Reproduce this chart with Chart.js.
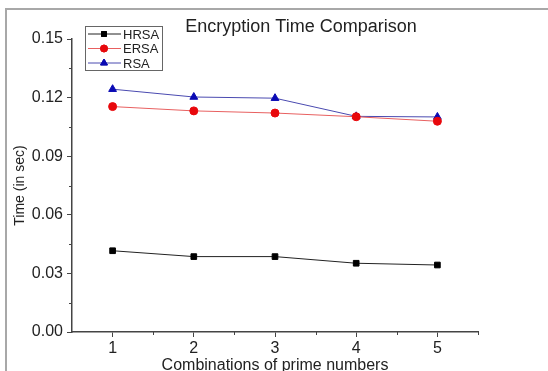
<!DOCTYPE html>
<html>
<head>
<meta charset="utf-8">
<script src="https://cdn.jsdelivr.net/npm/chart.js@4"></script>
<style>
    html, body { margin: 0; padding: 0; background: #fff; }
    #wrap { position: relative; width: 548px; height: 371px; overflow: hidden; }
    #frame { position: absolute; left: 5px; top: 8px; width: 600px; height: 400px;
             border-top: 2px solid #a8a8a8; border-left: 2px solid #a8a8a8; }
    canvas { position: absolute; left: 0; top: 0; }
</style>
</head>
<body>
<div id="wrap">
    <div id="frame"></div>
    <canvas id="chart" width="548" height="371"></canvas>
</div>
<script>
(function () {
    'use strict';

    var categories = [1, 2, 3, 4, 5];
    var hrsa = [0.0416, 0.0386, 0.0386, 0.0352, 0.0343];
    var ersa = [0.1154, 0.1132, 0.1121, 0.1102, 0.1079];
    var rsa = [0.1243, 0.1203, 0.1197, 0.1104, 0.1101];
    var yTicks = [0, 0.03, 0.06, 0.09, 0.12, 0.15];
    var xMinor = [1.5, 2.5, 3.5, 4.5, 5.5];
    var yMinor = [0.015, 0.045, 0.075, 0.105, 0.135];
    var font = '"Liberation Sans", Arial, sans-serif';
    var axisColor = '#444';

    function points(values) {
        return categories.map(function (c, i) {
            return { x: c, y: values[i] };
        });
    }

    function series(label, values, color, lineColor, style, radius) {
        return {
            label: label,
            data: points(values),
            borderColor: lineColor,
            backgroundColor: color,
            pointBorderColor: color,
            pointBackgroundColor: color,
            pointStyle: style,
            pointRadius: radius,
            borderWidth: 1,
            tension: 0,
        };
    }

    // minor tick marks, like the origin plot
    var minorTicks = {
        id: 'minorTicks',
        afterDraw: function (chart) {
            var ctx = chart.ctx;
            var xs = chart.scales.x;
            var ys = chart.scales.y;
            var area = chart.chartArea;
            ctx.save();
            ctx.strokeStyle = axisColor;
            ctx.lineWidth = 1;
            ctx.beginPath();
            xMinor.forEach(function (v) {
                var px = Math.round(xs.getPixelForValue(v)) + 0.5;
                ctx.moveTo(px, area.bottom);
                ctx.lineTo(px, area.bottom + 3);
            });
            yMinor.forEach(function (v) {
                var py = Math.round(ys.getPixelForValue(v)) + 0.5;
                ctx.moveTo(area.left, py);
                ctx.lineTo(area.left - 3, py);
            });
            ctx.stroke();
            ctx.restore();
        }
    };

    var boxLegend = {
        id: 'boxLegend',
        afterDraw: function (chart) {
            var ctx = chart.ctx;
            var x0 = 85, y0 = 26, w = 77, h = 44;
            ctx.save();
            ctx.strokeStyle = '#666';
            ctx.lineWidth = 1;
            ctx.strokeRect(x0 + 0.5, y0 + 0.5, w, h);
            ctx.font = '13px ' + font;
            ctx.textBaseline = 'middle';
            chart.data.datasets.forEach(function (ds, i) {
                var cy = y0 + 8 + i * 14.5;
                ctx.strokeStyle = ds.borderColor;
                ctx.beginPath();
                ctx.moveTo(x0 + 3, cy);
                ctx.lineTo(x0 + 36, cy);
                ctx.stroke();
                Chart.helpers.drawPoint(ctx, {
                    pointStyle: ds.pointStyle,
                    radius: ds.pointRadius - 0.5,
                    borderWidth: 1
                }, x0 + 19, cy);
                ctx.fillStyle = ds.pointBackgroundColor;
                ctx.strokeStyle = ds.pointBorderColor;
                ctx.fill();
                ctx.stroke();
                ctx.fillStyle = '#222';
                ctx.fillText(ds.label, x0 + 38, cy + 1);
            });
            ctx.fillStyle = '#222';
            ctx.font = '18px ' + font;
            ctx.textAlign = 'center';
            ctx.textBaseline = 'middle';
            ctx.fillText('Encryption Time Comparison', 301, 27);
            ctx.restore();
        }
    };

    new Chart(document.getElementById('chart'), {
        type: 'line',
        data: {
            datasets: [
                series('HRSA', hrsa, '#000', '#222', 'rect', 4),
                series('ERSA', ersa, '#e8080c', '#e86060', 'circle', 4),
                series('RSA', rsa, '#0a0ab4', '#4a4ab0', 'triangle', 4.5)
            ]
        },
        options: {
            responsive: false,
            animation: false,
            layout: { padding: { top: 39, right: 70, left: 0, bottom: 0 } },
            plugins: {
                legend: { display: false },
                tooltip: { enabled: false },
                title: { display: false }
            },
            scales: {
                x: {
                    type: 'linear',
                    min: 0.5,
                    max: 5.5,
                    afterBuildTicks: function (scale) {
                        scale.ticks = categories.map(function (v) { return { value: v }; });
                    },
                    afterFit: function (scale) { scale.height = 39; },
                    grid: { display: true, drawOnChartArea: false, drawTicks: true, tickLength: 5, color: axisColor },
                    border: { display: true, color: axisColor, width: 1.5 },
                    ticks: { color: '#222', padding: 2, font: { family: font, size: 16 } },
                    title: {
                        display: true,
                        text: 'Combinations of prime numbers',
                        color: '#222',
                        padding: 0,
                        font: { family: font, size: 16, lineHeight: 0.7 }
                    }
                },
                y: {
                    min: 0,
                    max: 0.15,
                    afterBuildTicks: function (scale) {
                        scale.ticks = yTicks.map(function (v) { return { value: v }; });
                    },
                    afterFit: function (scale) { scale.width = 72; },
                    grid: { display: true, drawOnChartArea: false, drawTicks: true, tickLength: 5, color: axisColor },
                    border: { display: true, color: axisColor, width: 1.5 },
                    ticks: {
                        color: '#222',
                        padding: 4,
                        font: { family: font, size: 16 },
                        callback: function (v) { return Number(v).toFixed(2); }
                    },
                    title: {
                        display: true,
                        text: 'Time (in sec)',
                        color: '#222',
                        padding: { top: 13, bottom: 0 },
                        font: { family: font, size: 14, lineHeight: 1 }
                    }
                }
            }
        },
        plugins: [minorTicks, boxLegend]
    });
})();
</script>
</body>
</html>
